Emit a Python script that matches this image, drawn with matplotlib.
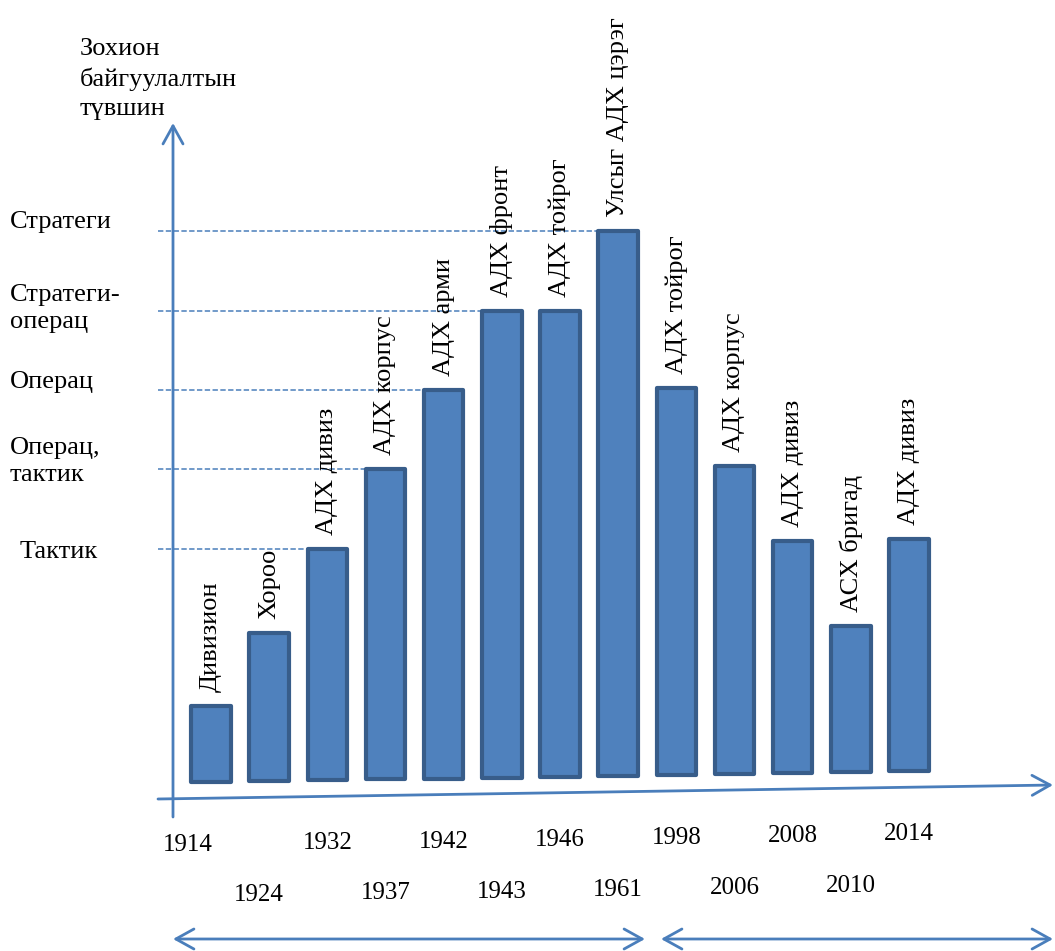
import matplotlib
matplotlib.use("Agg")
import matplotlib.pyplot as plt
import numpy as np

plt.rcParams['font.family'] = ['Liberation Serif', 'DejaVu Serif']

# data
years = ['1914', '1924', '1932', '1937', '1942', '1943', '1946',
         '1961', '1998', '2006', '2008', '2010', '2014']
units = ['Дивизион', 'Хороо', 'АДХ дивиз', 'АДХ корпус', 'АДХ арми',
         'АДХ фронт', 'АДХ тойрог', 'Улсыг АДХ цэрэг', 'АДХ тойрог',
         'АДХ корпус', 'АДХ дивиз', 'АСХ бригад', 'АДХ дивиз']
tops = [-0.97, -0.06, 1.0, 2.0, 3.0, 4.0, 4.0, 5.0, 3.02, 2.04, 1.1, 0.03, 1.12]
level_values = [1, 2, 3, 4, 5]
level_names = ['Тактик', 'Операц,\nтактик', 'Операц', 'Стратеги-\nоперац', 'Стратеги']
title = 'Зохион\nбайгуулалтын\nтүвшин'

W, H = 1055, 951
LINE = '#4A7EBB'
FACE = '#4F81BD'
EDGE = '#385D8A'

fig = plt.figure(figsize=(W / 100, H / 100), dpi=100)
ax = fig.add_axes([0, 0, 1, 1])
ax.set_xlim(-3.627, 14.51)
ax.set_ylim(-4.057, 7.906)
ax.axis('off')


def ax_frac(px, py):
    # picture pixel -> axes fraction, used for the hand-drawn decorations
    return px / W, 1 - py / H


x = np.arange(len(years))
px_per_y = 79.5

# slanted time axis, in pixels
axis_px = np.array([158, 1053])
axis_py = np.array([799, 785])
axis_x = (axis_px - 211) / 58.17
axis_y = (628.5 - axis_py) / px_per_y
base = np.interp(x, axis_x, axis_y) + 16 / px_per_y
heights = np.array(tops) - base

ax.bar(x, heights, bottom=base, width=0.68, color=FACE, edgecolor=EDGE,
       linewidth=3.0, joinstyle='round', zorder=3)

# unit names above bars
for xi, top, name in zip(x, tops, units):
    ax.text(xi, top + 14 / px_per_y, name, rotation=90, ha='center', va='bottom',
            fontsize=19, zorder=4)

# years under the axis, alternating rows
x_shift = {'1914': -0.4, '1924': -0.17}
for xi, b, yr in zip(x, base, years):
    row = 47 if xi % 2 == 0 else 98
    ax.text(xi + x_shift.get(yr, 0), b - 16 / px_per_y - row / px_per_y, yr,
            ha='center', va='center', fontsize=18)

# dashed level lines up to the first bar reaching the level
x_start = (158 - 211) / 58.17
label_lift = [-0.04, 0.1, 0.1, 0.03, 0.11]
for lv, name, lift in zip(level_values, level_names, label_lift):
    first = next(i for i, t in enumerate(tops) if t >= lv - 0.1)
    ax.plot([x_start, first - 0.34], [lv, lv], color=LINE, lw=1.1,
            dashes=(3.5, 1.6), zorder=2)
    lx = 20 if name == 'Тактик' else 10
    ax.text(lx / W, lv + lift, name, transform=ax.get_yaxis_transform(),
            ha='left', va='center', fontsize=19, linespacing=1.3)

ax.text(*ax_frac(80, 79), title, transform=ax.transAxes, ha='left', va='center',
        fontsize=19, linespacing=1.4)

arrow = dict(arrowstyle='->,head_length=0.65,head_width=0.36', lw=2.0,
             color=LINE, shrinkA=0, shrinkB=0, mutation_scale=20)
both = dict(arrow, arrowstyle='<->,head_length=0.65,head_width=0.36')

# vertical axis
ax.annotate('', xy=ax_frac(173, 123), xytext=ax_frac(173, 817),
            xycoords='axes fraction', textcoords='axes fraction', arrowprops=arrow)
# horizontal (slanted) axis
ax.annotate('', xy=ax_frac(1053, 785), xytext=ax_frac(158, 799),
            xycoords='axes fraction', textcoords='axes fraction', arrowprops=arrow)
# period arrows at the bottom
ax.annotate('', xy=ax_frac(645, 939), xytext=ax_frac(173, 939),
            xycoords='axes fraction', textcoords='axes fraction', arrowprops=both)
ax.annotate('', xy=ax_frac(1053, 939), xytext=ax_frac(661, 939),
            xycoords='axes fraction', textcoords='axes fraction', arrowprops=both)

fig.savefig('out.png', dpi=100)
